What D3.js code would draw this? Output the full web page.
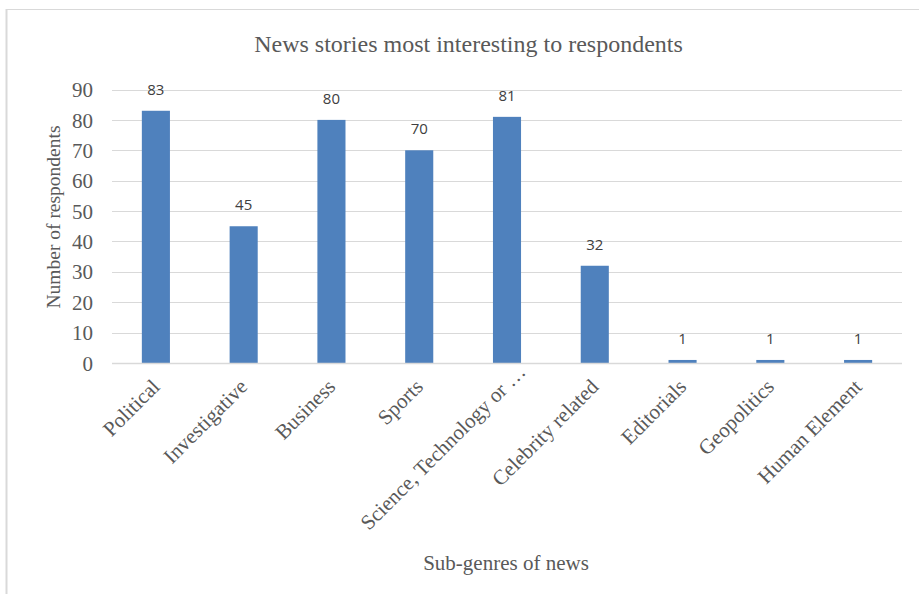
<!DOCTYPE html>
<html><head><meta charset="utf-8">
<script src="https://cdn.jsdelivr.net/npm/d3@7"></script>
<style>html,body{margin:0;padding:0;background:#fff;}svg{display:block;}</style>
</head><body>
<svg id="chart" width="919" height="594"></svg>
<script>
const categories = ["Political","Investigative","Business","Sports","Science, Technology or …","Celebrity related","Editorials","Geopolitics","Human Element"];
const values = [83,45,80,70,81,32,1,1,1];
const yTicks = [0,10,20,30,40,50,60,70,80,90];
const titleText = "News stories most interesting to respondents";
const yTitle = "Number of respondents";
const xTitle = "Sub-genres of news";

(function(){
const svg = d3.select("#chart");
const serif = "'Liberation Serif','Times New Roman',serif";
const sans = "'Open Sans','Liberation Sans',sans-serif";
const textColor = "#595959";

// chart frame
svg.append("line").attr("x1",6.5).attr("x2",6.5).attr("y1",9).attr("y2",594).attr("stroke","#d9d9d9").attr("stroke-width",2);
svg.append("line").attr("x1",6).attr("x2",919).attr("y1",9.5).attr("y2",9.5).attr("stroke","#d9d9d9").attr("stroke-width",1);

const pLeft = 112, pRight = 902, pTop = 89.5, pBottom = 363;
const x = d3.scaleBand().domain(categories).range([pLeft,pRight]).paddingInner(0.68).paddingOuter(0.34);
const y = d3.scaleLinear().domain([0,90]).range([pBottom,pTop]);

// gridlines
svg.append("g").selectAll("line").data(yTicks).join("line")
  .attr("x1",pLeft).attr("x2",pRight)
  .attr("y1",d=>Math.round(y(d))+0.5).attr("y2",d=>Math.round(y(d))+0.5)
  .attr("stroke","#d9d9d9").attr("stroke-width",1);

// y axis labels
const yAxis = d3.axisLeft(y).tickValues(yTicks).tickSize(0).tickPadding(0);
const yg = svg.append("g").attr("transform",`translate(${pLeft-19},0)`).call(yAxis);
yg.select(".domain").remove();
yg.selectAll("text").attr("font-family",serif).attr("font-size",21).attr("fill",textColor).attr("dy","0.34em");

// bars
svg.append("g").selectAll("rect").data(values).join("rect")
  .attr("x",(d,i)=>x(categories[i])).attr("width",x.bandwidth())
  .attr("y",d=>y(d)).attr("height",d=>y(0)-y(d))
  .attr("fill","#4f81bd");

// axis line
svg.append("line").attr("x1",pLeft).attr("x2",pRight).attr("y1",pBottom+0.5).attr("y2",pBottom+0.5).attr("stroke","#d9d9d9").attr("stroke-width",1.5);

// data labels
svg.append("g").selectAll("text").data(values).join("text")
  .attr("x",(d,i)=>x(categories[i])+x.bandwidth()/2)
  .attr("y",d=>y(d)-16)
  .attr("text-anchor","middle")
  .attr("font-family",sans).attr("font-size",15).attr("fill","#404040")
  .text(d=>d);

// x labels (truncated labels overhang by their ellipsis)
svg.append("g").selectAll("text").data(categories).join("text")
  .attr("transform",d=>`translate(${x(d)+x.bandwidth()/2+5},${pBottom+25}) rotate(-45)`)
  .attr("text-anchor","end")
  .attr("dx",d=>d.endsWith("…") ? "1em" : 0)
  .attr("font-family",serif).attr("font-size",21).attr("fill",textColor)
  .text(d=>d);

// title
svg.append("text").attr("x",468.5).attr("y",52).attr("text-anchor","middle")
  .attr("font-family",serif).attr("font-size",24).attr("fill",textColor).text(titleText);

// y title
svg.append("text").attr("transform","translate(60,217) rotate(-90)").attr("text-anchor","middle")
  .attr("font-family",serif).attr("font-size",19.5).attr("fill",textColor).text(yTitle);

// x title
svg.append("text").attr("x",506).attr("y",570).attr("text-anchor","middle")
  .attr("font-family",serif).attr("font-size",21).attr("fill",textColor).text(xTitle);
})();
</script>
</body></html>
